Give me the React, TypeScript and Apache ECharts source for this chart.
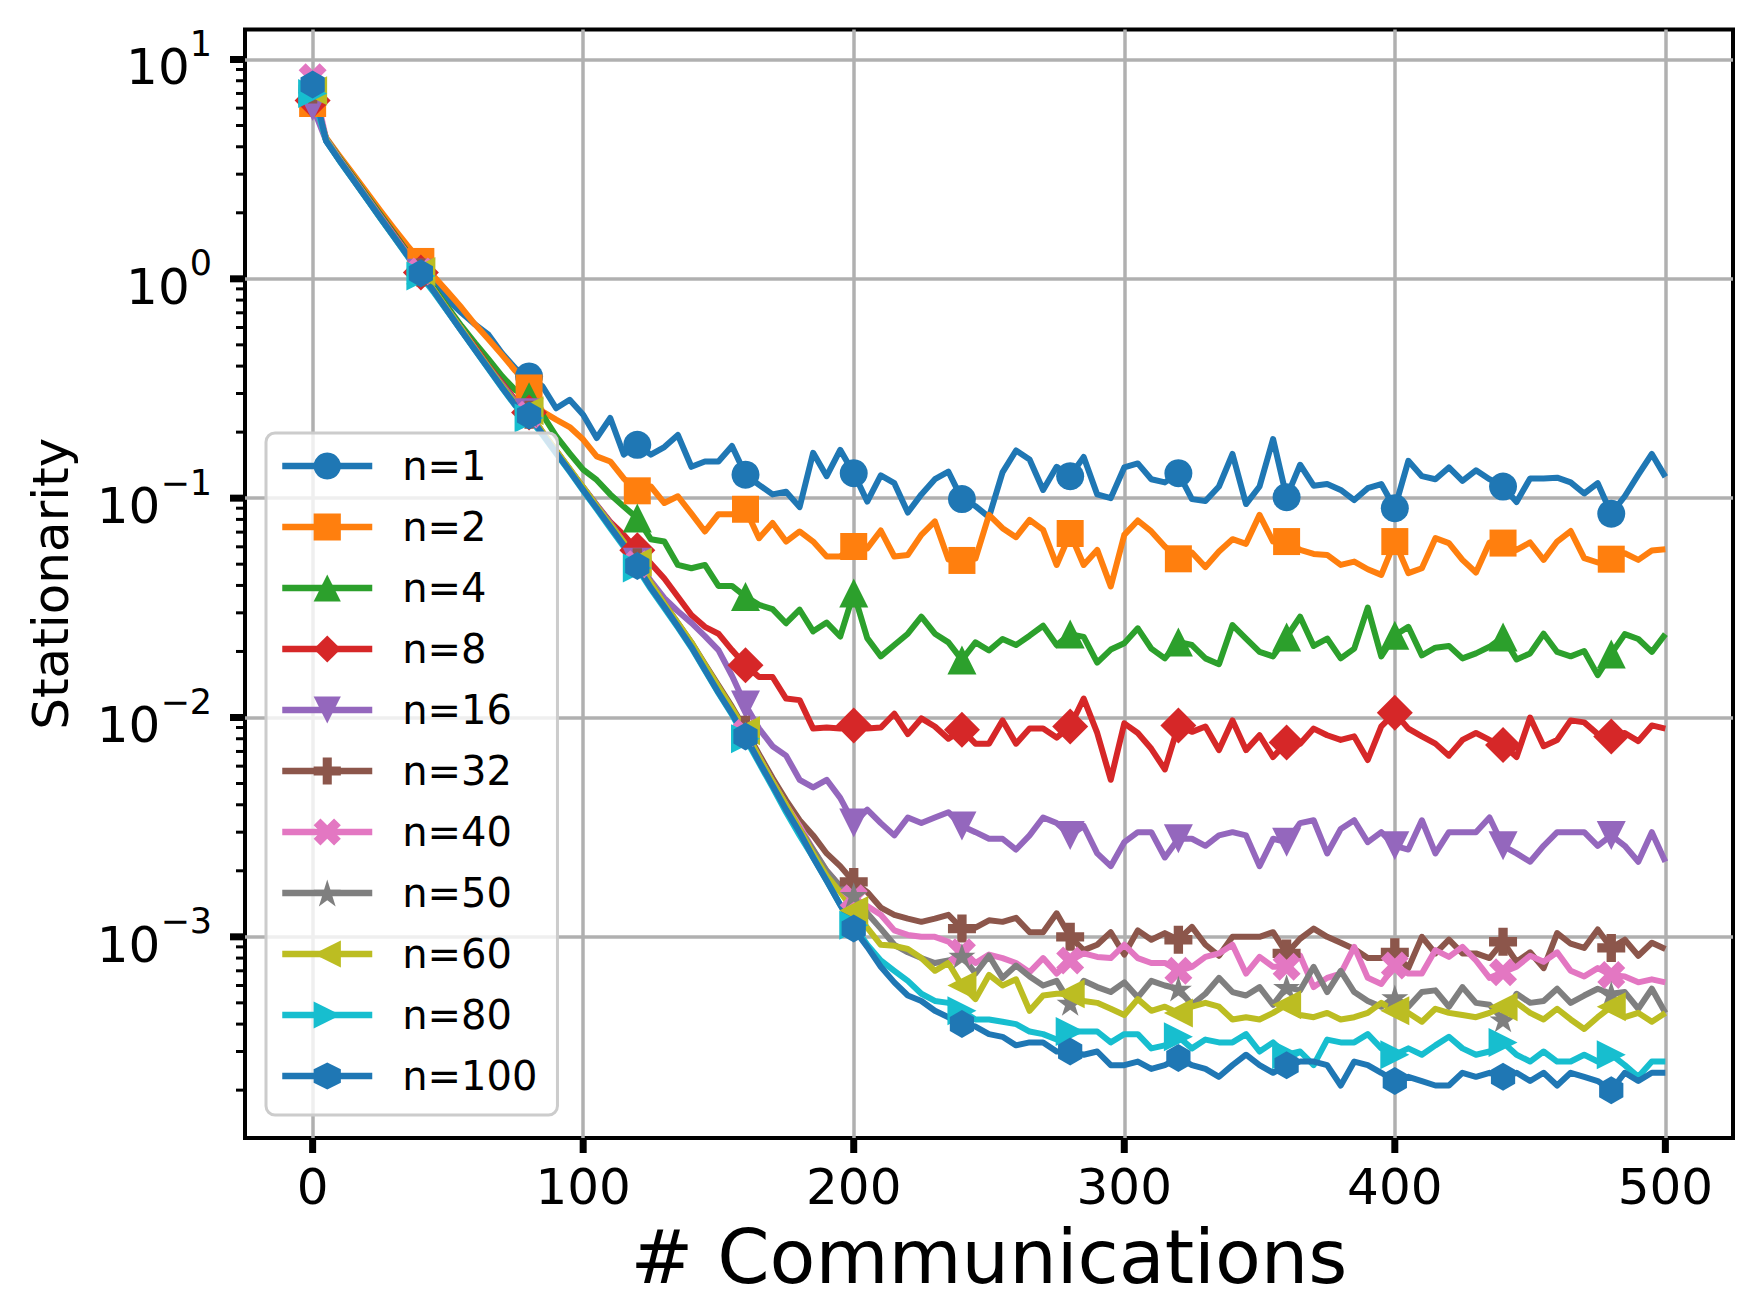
import React, { useEffect, useRef } from 'react';
import * as echarts from 'echarts';

const FONT = 'DejaVu Sans';

// Communication rounds at which stationarity was logged.
const communications = [
  0, 5, 10, 15, 20, 25, 30, 35, 40, 45,
  50, 55, 60, 65, 70, 75, 80, 85, 90, 95,
  100, 105, 110, 115, 120, 125, 130, 135, 140, 145,
  150, 155, 160, 165, 170, 175, 180, 185, 190, 195,
  200, 205, 210, 215, 220, 225, 230, 235, 240, 245,
  250, 255, 260, 265, 270, 275, 280, 285, 290, 295,
  300, 305, 310, 315, 320, 325, 330, 335, 340, 345,
  350, 355, 360, 365, 370, 375, 380, 385, 390, 395,
  400, 405, 410, 415, 420, 425, 430, 435, 440, 445,
  450, 455, 460, 465, 470, 475, 480, 485, 490, 495,
  500,
];

const stationarityN1 = [
  7.3, 4.3, 3.55, 2.93, 2.42, 1.98, 1.63, 1.34, 1.1, 0.94,
  0.8, 0.7, 0.62, 0.556, 0.458, 0.39, 0.359, 0.323, 0.257, 0.281,
  0.24, 0.188, 0.232, 0.158, 0.175, 0.158, 0.171, 0.194, 0.139, 0.147,
  0.147, 0.173, 0.128, 0.115, 0.104, 0.107, 0.091, 0.161, 0.126, 0.166,
  0.13, 0.0965, 0.127, 0.117, 0.086, 0.104, 0.122, 0.132, 0.099, 0.092,
  0.082, 0.131, 0.165, 0.15, 0.109, 0.139, 0.126, 0.154, 0.104, 0.1,
  0.138, 0.144, 0.122, 0.118, 0.13, 0.099, 0.097, 0.113, 0.159, 0.094,
  0.113, 0.186, 0.101, 0.142, 0.114, 0.116, 0.109, 0.098, 0.111, 0.116,
  0.09, 0.148, 0.126, 0.122, 0.138, 0.12, 0.134, 0.122, 0.113, 0.096,
  0.123, 0.123, 0.124, 0.118, 0.105, 0.117, 0.085, 0.102, 0.128, 0.159,
  0.125,
];

const stationarityN2 = [
  6.3, 4.4, 3.62, 3.0, 2.48, 2.05, 1.7, 1.42, 1.2, 1.02,
  0.87, 0.74, 0.62, 0.53, 0.45, 0.38, 0.318, 0.248, 0.228, 0.211,
  0.185, 0.155, 0.147, 0.123, 0.108, 0.113, 0.095, 0.102, 0.085, 0.0705,
  0.0845, 0.0845, 0.089, 0.0657, 0.077, 0.0634, 0.0705, 0.0634, 0.0542, 0.0542,
  0.0602, 0.059, 0.0712, 0.0542, 0.0551, 0.068, 0.0783, 0.0525, 0.052, 0.053,
  0.0839, 0.073, 0.0664, 0.0796, 0.0717, 0.0496, 0.069, 0.0496, 0.0581, 0.0396,
  0.068, 0.0791, 0.0705, 0.0602, 0.0529, 0.0565, 0.0485, 0.0571, 0.065, 0.0619,
  0.0839, 0.0634, 0.0634, 0.0581, 0.0557, 0.0551, 0.0496, 0.0514, 0.0474, 0.0447,
  0.0634, 0.0455, 0.0479, 0.0657, 0.0624, 0.0523, 0.0458, 0.0628, 0.0624, 0.0581,
  0.0628, 0.0523, 0.0634, 0.0708, 0.0533, 0.0509, 0.0527, 0.0561, 0.0523, 0.0577,
  0.0585,
];

const stationarityN4 = [
  7.2, 4.35, 3.55, 2.92, 2.4, 1.97, 1.62, 1.33, 1.1, 0.9,
  0.74, 0.61, 0.51, 0.43, 0.36, 0.31, 0.29, 0.24, 0.192, 0.16,
  0.135, 0.121, 0.104, 0.0916, 0.0811, 0.065, 0.0634, 0.0496, 0.0479, 0.0496,
  0.0398, 0.0398, 0.0356, 0.0326, 0.0312, 0.0269, 0.031, 0.0247, 0.0271, 0.0234,
  0.0369, 0.023, 0.019, 0.0214, 0.0241, 0.0288, 0.0241, 0.022, 0.0183, 0.022,
  0.0202, 0.0228, 0.0214, 0.0236, 0.0262, 0.0214, 0.024, 0.0233, 0.0178, 0.0204,
  0.0218, 0.0255, 0.0206, 0.0186, 0.0221, 0.0214, 0.0186, 0.0175, 0.0264, 0.0229,
  0.0199, 0.019, 0.0233, 0.0288, 0.0212, 0.0229, 0.0186, 0.0206, 0.0317, 0.019,
  0.0237, 0.0259, 0.0192, 0.0208, 0.0212, 0.0186, 0.0196, 0.021, 0.0233, 0.0184,
  0.0196, 0.0241, 0.0199, 0.019, 0.0201, 0.0156, 0.0195, 0.024, 0.0228, 0.0199,
  0.024,
];

const stationarityN8 = [
  6.5, 4.3, 3.5, 2.88, 2.36, 1.94, 1.6, 1.31, 1.07, 0.88,
  0.72, 0.59, 0.49, 0.4, 0.335, 0.28, 0.246, 0.2, 0.165, 0.135,
  0.112, 0.093, 0.078, 0.068, 0.0579, 0.0504, 0.043, 0.0355, 0.0293, 0.0259,
  0.0241, 0.0203, 0.0173, 0.0153, 0.0153, 0.0122, 0.012, 0.0089, 0.009, 0.0089,
  0.0092, 0.0089, 0.009, 0.0104, 0.0084, 0.0099, 0.0091, 0.008, 0.0088, 0.0076,
  0.0076, 0.0097, 0.0076, 0.0089, 0.0089, 0.0081, 0.0091, 0.0122, 0.0085, 0.0052,
  0.0094, 0.0085, 0.0072, 0.0058, 0.0092, 0.0086, 0.0091, 0.0071, 0.0097, 0.0071,
  0.0083, 0.0066, 0.0077, 0.0076, 0.0089, 0.0083, 0.0079, 0.0082, 0.0064, 0.0091,
  0.0105, 0.0089, 0.0082, 0.0076, 0.0067, 0.0079, 0.0085, 0.0079, 0.0075, 0.0066,
  0.01, 0.0074, 0.0079, 0.0097, 0.0095, 0.0084, 0.0082, 0.0085, 0.0078, 0.0092,
  0.0089,
];

const stationarityN16 = [
  6.1, 4.25, 3.48, 2.86, 2.35, 1.93, 1.58, 1.3, 1.06, 0.87,
  0.71, 0.58, 0.48, 0.395, 0.33, 0.275, 0.245, 0.198, 0.163, 0.135,
  0.112, 0.093, 0.077, 0.063, 0.051, 0.042, 0.035, 0.0305, 0.027, 0.0235,
  0.0203, 0.0155, 0.0114, 0.0089, 0.0074, 0.0067, 0.0052, 0.0048, 0.0052, 0.0043,
  0.0033, 0.0038, 0.0033, 0.0029, 0.0035, 0.0033, 0.0035, 0.0037, 0.0032, 0.003,
  0.0028, 0.0028, 0.0025, 0.0029, 0.0035, 0.0033, 0.0029, 0.0032, 0.0024, 0.0021,
  0.0027, 0.003, 0.003, 0.0023, 0.0028, 0.0028, 0.0026, 0.0029, 0.003, 0.0029,
  0.0021, 0.0028, 0.0027, 0.0033, 0.0034, 0.0024, 0.0031, 0.0034, 0.0027, 0.003,
  0.0026, 0.0025, 0.0034, 0.0024, 0.003, 0.003, 0.003, 0.0035, 0.0026, 0.0024,
  0.0022, 0.0026, 0.003, 0.003, 0.003, 0.0026, 0.0029, 0.0026, 0.0022, 0.003,
  0.0022,
];

const stationarityN32 = [
  7.3, 4.3, 3.48, 2.86, 2.34, 1.92, 1.57, 1.29, 1.07, 0.88,
  0.72, 0.59, 0.48, 0.395, 0.325, 0.27, 0.24, 0.198, 0.163, 0.135,
  0.111, 0.092, 0.076, 0.062, 0.051, 0.041, 0.033, 0.027, 0.022, 0.0175,
  0.014, 0.0112, 0.0088, 0.0068, 0.0053, 0.0042, 0.0034, 0.0029, 0.0024, 0.0021,
  0.00178, 0.0016, 0.00136, 0.00126, 0.00121, 0.00117, 0.00121, 0.00126, 0.00109, 0.0011,
  0.00119, 0.00117, 0.00122, 0.00105, 0.00105, 0.00128, 0.001, 0.00087, 0.00092, 0.00105,
  0.00083, 0.00107, 0.00097, 0.00104, 0.00097, 0.00111, 0.00092, 0.00082, 0.001, 0.001,
  0.001, 0.00105, 0.00084, 0.00098, 0.00109, 0.001, 0.00094, 0.00088, 0.0008, 0.0008,
  0.00085, 0.00072, 0.001, 0.00084, 0.00097, 0.00084, 0.00084, 0.0008, 0.00095, 0.00077,
  0.00085, 0.00072, 0.00104, 0.00093, 0.00089, 0.00108, 0.00089, 0.00097, 0.00082, 0.00094,
  0.00088,
];

const stationarityN40 = [
  8.3, 4.35, 3.5, 2.87, 2.35, 1.92, 1.58, 1.3, 1.08, 0.88,
  0.72, 0.59, 0.48, 0.393, 0.322, 0.267, 0.24, 0.197, 0.162, 0.134,
  0.11, 0.091, 0.075, 0.062, 0.05, 0.04, 0.0325, 0.0265, 0.0215, 0.017,
  0.0135, 0.0108, 0.0085, 0.0066, 0.0051, 0.004, 0.0032, 0.0025, 0.002, 0.0017,
  0.0015, 0.00138, 0.00126, 0.00107, 0.00102, 0.001, 0.001, 0.00095, 0.00085, 0.00076,
  0.00083, 0.0008, 0.00076, 0.00069, 0.0008, 0.00068, 0.00078, 0.00084, 0.00081, 0.0008,
  0.00092, 0.0008, 0.00076, 0.00076, 0.0007, 0.00073, 0.00081, 0.00084, 0.00092, 0.00068,
  0.00081, 0.00073, 0.00073, 0.00082, 0.00059, 0.00065, 0.00068, 0.0009, 0.00065, 0.00061,
  0.00074, 0.00068, 0.00068, 0.00087, 0.00081, 0.0009, 0.00078, 0.00065, 0.00069, 0.00073,
  0.00082, 0.00077, 0.00085, 0.0007, 0.00066, 0.00072, 0.00067, 0.00066, 0.00062, 0.00064,
  0.00062,
];

const stationarityN50 = [
  7.4, 4.3, 3.47, 2.85, 2.33, 1.91, 1.57, 1.29, 1.07, 0.875,
  0.715, 0.585, 0.478, 0.392, 0.322, 0.266, 0.24, 0.197, 0.162, 0.134,
  0.11, 0.091, 0.075, 0.062, 0.05, 0.04, 0.0325, 0.0265, 0.0215, 0.017,
  0.0134, 0.0107, 0.0084, 0.0065, 0.005, 0.0039, 0.0031, 0.0025, 0.002, 0.0017,
  0.00155, 0.00128, 0.00109, 0.00092, 0.00085, 0.0008, 0.00076, 0.00078, 0.00082, 0.00068,
  0.00082, 0.00065, 0.00074, 0.00066, 0.0006, 0.00063, 0.0005, 0.00063, 0.00059, 0.00056,
  0.00062, 0.00053, 0.00063, 0.0006, 0.00058, 0.00049, 0.00055, 0.00065, 0.00056, 0.00054,
  0.00059, 0.00049, 0.00059, 0.00057, 0.00073, 0.00056, 0.0007, 0.00056, 0.00051, 0.00048,
  0.00053, 0.00048, 0.00056, 0.00057, 0.00048, 0.00059, 0.0005, 0.00049, 0.00042, 0.00055,
  0.0005, 0.00051, 0.00058, 0.0005, 0.00054, 0.00058, 0.00055, 0.00056, 0.00047, 0.00058,
  0.00045,
];

const stationarityN60 = [
  7.2, 4.3, 3.46, 2.84, 2.33, 1.9, 1.56, 1.28, 1.08, 0.88,
  0.72, 0.59, 0.48, 0.395, 0.325, 0.27, 0.25, 0.2, 0.165, 0.136,
  0.112, 0.092, 0.076, 0.063, 0.051, 0.041, 0.033, 0.027, 0.022, 0.0174,
  0.0138, 0.011, 0.0087, 0.0066, 0.0051, 0.004, 0.0031, 0.0024, 0.0019, 0.0016,
  0.00132, 0.0011, 0.00092, 0.00091, 0.00088, 0.0008, 0.0007, 0.00076, 0.0006, 0.00052,
  0.00067, 0.0006, 0.00064, 0.00046, 0.00054, 0.00055, 0.00055, 0.00051, 0.0005, 0.00047,
  0.00044, 0.00052, 0.00046, 0.00048, 0.00045, 0.00048, 0.0005, 0.00048, 0.00042, 0.00043,
  0.00042, 0.00045, 0.00049, 0.00044, 0.00043, 0.00045, 0.00042, 0.00043, 0.00045, 0.0005,
  0.00046, 0.00045, 0.00041, 0.00047, 0.00045, 0.00044, 0.00043, 0.00045, 0.00048, 0.0005,
  0.00045, 0.00042, 0.00047, 0.00042, 0.00038, 0.00043, 0.00048, 0.00043, 0.00045, 0.00041,
  0.00045,
];

const stationarityN80 = [
  7.0, 4.25, 3.44, 2.82, 2.31, 1.89, 1.55, 1.27, 1.03, 0.86,
  0.705, 0.578, 0.473, 0.388, 0.318, 0.263, 0.232, 0.194, 0.16, 0.132,
  0.108, 0.089, 0.073, 0.06, 0.048, 0.0385, 0.0315, 0.0257, 0.0208, 0.0164,
  0.0129, 0.0103, 0.008, 0.0062, 0.0048, 0.0037, 0.0029, 0.0023, 0.0018, 0.0014,
  0.00113, 0.00092, 0.00078, 0.0007, 0.00063, 0.00055, 0.00051, 0.0005, 0.00046, 0.00042,
  0.00042, 0.00041, 0.0004, 0.00037, 0.00036, 0.00034, 0.00037, 0.00037, 0.00037, 0.00033,
  0.00036, 0.00036, 0.00031, 0.00032, 0.00035, 0.00031, 0.00034, 0.00033, 0.00033, 0.00036,
  0.0003, 0.00033, 0.00029, 0.0003, 0.00026, 0.00034, 0.00033, 0.00033, 0.00036, 0.00031,
  0.00029, 0.00031, 0.00029, 0.00032, 0.00035, 0.00031, 0.00029, 0.0003, 0.00033, 0.00029,
  0.00027, 0.0003, 0.00027, 0.00027, 0.00029, 0.00027, 0.00029, 0.00026, 0.00023, 0.00027,
  0.00027,
];

const stationarityN100 = [
  7.7, 4.25, 3.45, 2.83, 2.32, 1.9, 1.56, 1.28, 1.06, 0.87,
  0.71, 0.58, 0.475, 0.39, 0.32, 0.265, 0.238, 0.196, 0.161, 0.133,
  0.109, 0.09, 0.074, 0.061, 0.049, 0.039, 0.032, 0.026, 0.021, 0.0165,
  0.013, 0.0104, 0.0082, 0.0063, 0.0049, 0.0038, 0.003, 0.0023, 0.0018, 0.0014,
  0.00109, 0.0009, 0.00073, 0.00062, 0.00054, 0.00051, 0.00046, 0.00043, 0.0004, 0.00039,
  0.00036, 0.00035, 0.00032, 0.00033, 0.00033, 0.0003, 0.0003, 0.00029, 0.0003, 0.00026,
  0.00026, 0.00027, 0.00025, 0.00026, 0.00028, 0.00026, 0.00025, 0.00023, 0.00026, 0.00029,
  0.00026, 0.00024, 0.00026, 0.00027, 0.00027, 0.00026, 0.00021, 0.00027, 0.00026, 0.00024,
  0.00022, 0.00023, 0.00022, 0.00021, 0.00021, 0.00024, 0.00023, 0.00024, 0.00023, 0.00024,
  0.00022, 0.00024, 0.00021, 0.00024, 0.00023, 0.00022, 0.0002, 0.00024, 0.00022, 0.00024,
  0.00024,
];

const seriesNames = ['n=1', 'n=2', 'n=4', 'n=8', 'n=16', 'n=32', 'n=40', 'n=50', 'n=60', 'n=80', 'n=100'];

// Axis ticks
const xTickValues = [0, 100, 200, 300, 400, 500];
const yTickValues = [1e-3, 1e-2, 1e-1, 1, 10];
const yMinorTickValues = [
  2e-4, 3e-4, 4e-4, 5e-4, 6e-4, 7e-4, 8e-4, 9e-4,
  2e-3, 3e-3, 4e-3, 5e-3, 6e-3, 7e-3, 8e-3, 9e-3,
  2e-2, 3e-2, 4e-2, 5e-2, 6e-2, 7e-2, 8e-2, 9e-2,
  0.2, 0.3, 0.4, 0.5, 0.6, 0.7, 0.8, 0.9,
  2, 3, 4, 5, 6, 7, 8, 9,
];

const X_MIN = -25;
const X_MAX = 525;
const Y_MIN = 1.21e-4;
const Y_MAX = 13.7;

// Marker shapes (matplotlib-style P, X, *, h)
const PLUS_FILLED = 'path://M-1,-3L1,-3L1,-1L3,-1L3,1L1,1L1,3L-1,3L-1,1L-3,1L-3,-1L-1,-1Z';
const X_FILLED = 'path://M-1,-2L0,-1L1,-2L2,-1L1,0L2,1L1,2L0,1L-1,2L-2,1L-1,0L-2,-1Z';
const STAR = 'path://M0,-1L0.2245,-0.309L0.951,-0.309L0.363,0.118L0.588,0.809L0,0.382L-0.588,0.809L-0.363,0.118L-0.951,-0.309L-0.2245,-0.309Z';
const HEXAGON = 'path://M0,-1L0.866,-0.5L0.866,0.5L0,1L-0.866,0.5L-0.866,-0.5Z';

const styles = [
  { color: '#1f77b4', symbol: 'circle', size: 28, rotate: 0 },
  { color: '#ff7f0e', symbol: 'rect', size: 27, rotate: 0 },
  { color: '#2ca02c', symbol: 'triangle', size: 29, rotate: 0 },
  { color: '#d62728', symbol: 'diamond', size: 36, rotate: 0 },
  { color: '#9467bd', symbol: 'triangle', size: 29, rotate: 180 },
  { color: '#8c564b', symbol: PLUS_FILLED, size: 28, rotate: 0 },
  { color: '#e377c2', symbol: X_FILLED, size: 28, rotate: 0 },
  { color: '#7f7f7f', symbol: STAR, size: 27, rotate: 0 },
  { color: '#bcbd22', symbol: 'triangle', size: 29, rotate: 90 },
  { color: '#17becf', symbol: 'triangle', size: 29, rotate: -90 },
  { color: '#1f77b4', symbol: HEXAGON, size: 28, rotate: 0 },
];

const seriesValues = [
  stationarityN1, stationarityN2, stationarityN4, stationarityN8, stationarityN16,
  stationarityN32, stationarityN40, stationarityN50, stationarityN60, stationarityN80,
  stationarityN100,
];

const MARK_EVERY = 8;

function buildOption(): echarts.EChartsOption {
  const lineSeries: any[] = seriesNames.map((name, s) => {
    const st = styles[s];
    return {
      name,
      type: 'line',
      data: communications.map((x, i) => [x, seriesValues[s][i]]),
      symbol: st.symbol,
      symbolRotate: st.rotate,
      symbolKeepAspect: true,
      symbolSize: (_v: any, p: any) => (p.dataIndex % MARK_EVERY === 0 ? st.size : 0),
      showSymbol: true,
      lineStyle: { color: st.color, width: 6, join: 'round' },
      itemStyle: { color: st.color, borderWidth: 0 },
      emphasis: { disabled: true },
      silent: true,
      clip: true,
      z: 3,
    };
  });

  const tickColor = '#000';
  const xTickSeries = {
    type: 'custom',
    silent: true,
    clip: false,
    z: 10,
    data: xTickValues.map((v) => [v, Y_MIN]),
    renderItem: (_p: any, api: any) => {
      const pt = api.coord([api.value(0), api.value(1)]);
      return {
        type: 'line',
        shape: { x1: pt[0], y1: pt[1], x2: pt[0], y2: pt[1] + 15 },
        style: { stroke: tickColor, lineWidth: 7 },
      };
    },
  };
  const yTickSeries = {
    type: 'custom',
    silent: true,
    clip: false,
    z: 10,
    data: yTickValues.map((v) => [X_MIN, v]),
    renderItem: (_p: any, api: any) => {
      const pt = api.coord([api.value(0), api.value(1)]);
      return {
        type: 'line',
        shape: { x1: pt[0] - 15, y1: pt[1], x2: pt[0], y2: pt[1] },
        style: { stroke: tickColor, lineWidth: 7 },
      };
    },
  };
  const yMinorTickSeries = {
    type: 'custom',
    silent: true,
    clip: false,
    z: 10,
    data: yMinorTickValues.map((v) => [X_MIN, v]),
    renderItem: (_p: any, api: any) => {
      const pt = api.coord([api.value(0), api.value(1)]);
      return {
        type: 'line',
        shape: { x1: pt[0] - 9, y1: pt[1], x2: pt[0], y2: pt[1] },
        style: { stroke: tickColor, lineWidth: 3 },
      };
    },
  };

  return {
    animation: false,
    backgroundColor: '#ffffff',
    textStyle: { fontFamily: FONT },
    grid: {
      left: 245,
      right: 30,
      top: 29.5,
      bottom: 152,
      outerBoundsMode: 'none',
      containLabel: false,
      show: true,
      borderColor: '#000',
      borderWidth: 4,
      backgroundColor: 'transparent',
    },
    xAxis: {
      type: 'value',
      min: X_MIN,
      max: X_MAX,
      name: '# Communications',
      nameLocation: 'middle',
      nameGap: 81,
      nameTextStyle: { fontFamily: FONT, fontSize: 75, color: '#000' },
      axisLine: { show: false },
      axisTick: { show: false },
      axisLabel: {
        margin: 24,
        fontFamily: FONT,
        fontSize: 50,
        color: '#000',
        formatter: (v: number) => (xTickValues.includes(v) ? String(v) : ''),
      },
      splitLine: {
        show: true,
        showMinLine: false,
        showMaxLine: false,
        lineStyle: { color: '#b0b0b0', width: 3.5 },
      },
    },
    yAxis: {
      type: 'log',
      logBase: 10,
      min: Y_MIN,
      max: Y_MAX,
      name: 'Stationarity',
      nameLocation: 'middle',
      nameRotate: 90,
      nameGap: 169,
      nameTextStyle: { fontFamily: FONT, fontSize: 50, color: '#000' },
      axisLine: { show: false },
      axisTick: { show: false },
      minorTick: { show: false },
      axisLabel: {
        margin: 33,
        color: '#000',
        formatter: (v: number) => {
          const e = Math.log10(v);
          const k = Math.round(e);
          if (Math.abs(e - k) > 1e-6) return '';
          const exp = k < 0 ? '\u2212' + String(-k) : String(k);
          return `{b|10}{s|${exp}}`;
        },
        rich: {
          b: { fontFamily: FONT, fontSize: 50, lineHeight: 66, verticalAlign: 'bottom', color: '#000' },
          s: { fontFamily: FONT, fontSize: 35, lineHeight: 35, verticalAlign: 'top', color: '#000' },
        },
      },
      splitLine: {
        show: true,
        showMinLine: false,
        showMaxLine: false,
        lineStyle: { color: '#b0b0b0', width: 3.5 },
      },
    },
    legend: {
      data: seriesNames,
      orient: 'vertical',
      left: 266,
      top: 433,
      itemWidth: 90,
      itemHeight: 34,
      itemGap: 21,
      padding: [13, 20, 19, 13],
      backgroundColor: 'rgba(255,255,255,0.8)',
      borderColor: '#cccccc',
      borderWidth: 3,
      borderRadius: 9,
      selectedMode: false,
      lineStyle: { width: 6.5 },
      textStyle: {
        fontFamily: FONT,
        fontSize: 40,
        lineHeight: 40,
        color: '#000',
        padding: [0, 0, 0, 25],
      },
      z: 20,
    },
    series: [...lineSeries, xTickSeries, yTickSeries, yMinorTickSeries],
  } as echarts.EChartsOption;
}

export default function App() {
  const ref = useRef<HTMLDivElement>(null);
  useEffect(() => {
    if (!ref.current) return;
    const chart = echarts.init(ref.current, undefined, { renderer: 'svg' });
    chart.setOption(buildOption());
    return () => chart.dispose();
  }, []);
  return (
    <div
      ref={ref}
      style={{ position: 'absolute', left: 0, top: 0, width: 1763, height: 1290, background: '#fff' }}
    />
  );
}
